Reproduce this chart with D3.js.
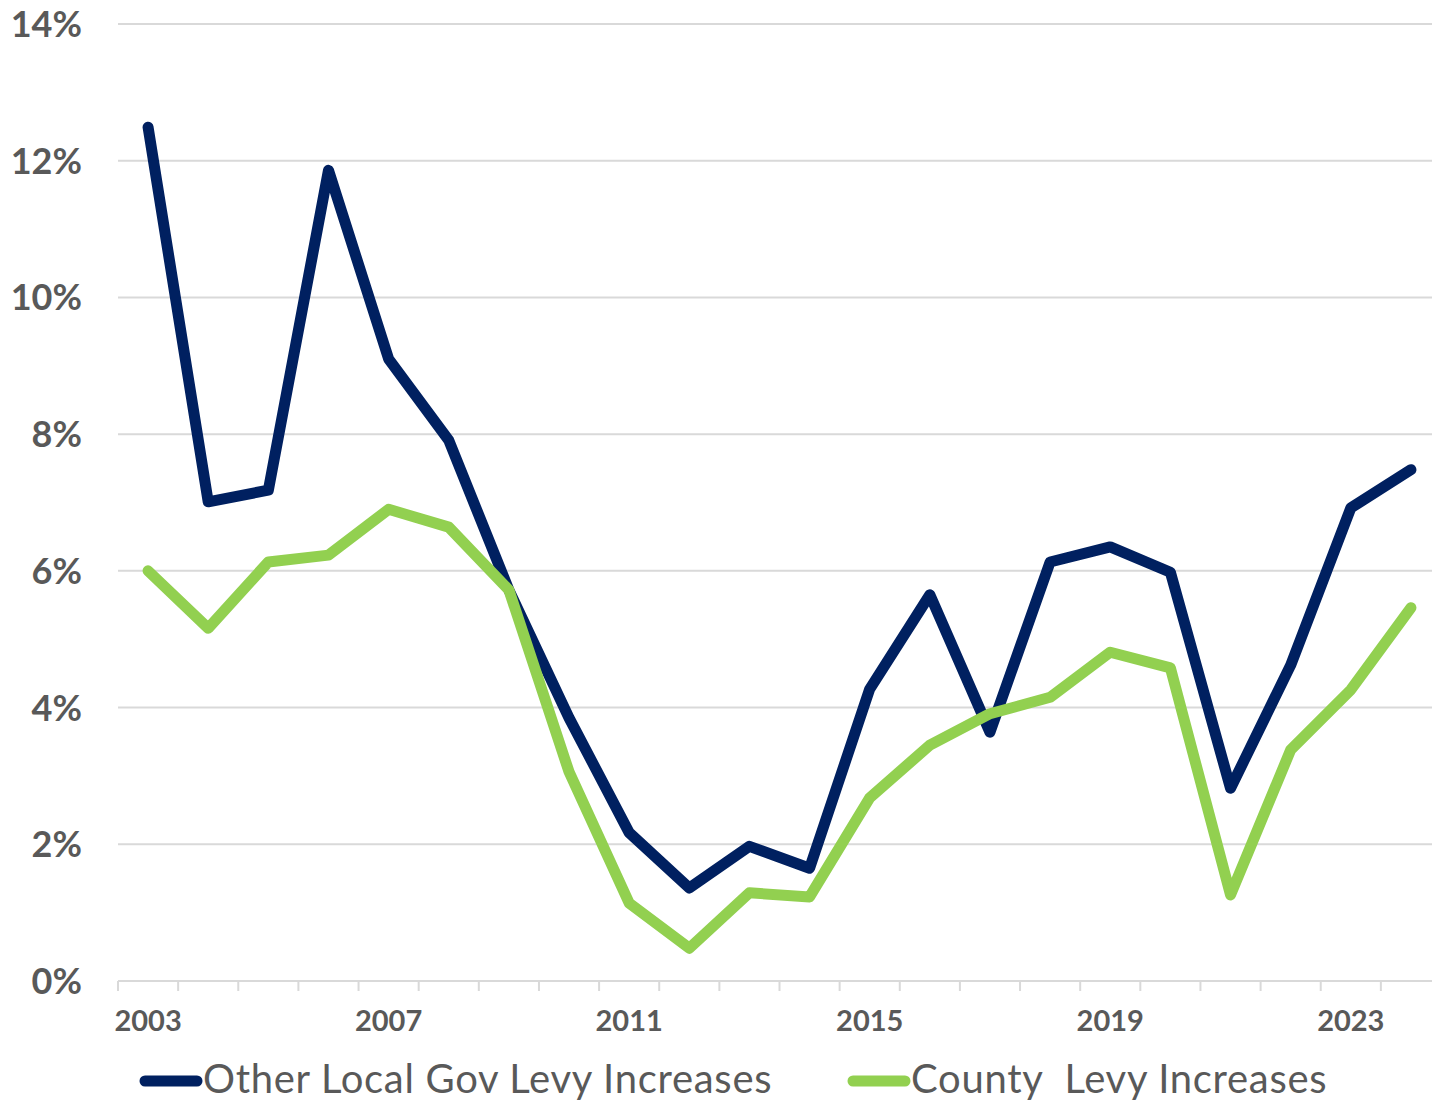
<!DOCTYPE html>
<html lang="en">
<head>
  <meta charset="UTF-8">
  <title>Levy Increases</title>
  <script src="https://d3js.org/d3.v7.min.js"></script>
  <style>
    body { margin: 0; background: #fff; }
    text { font-family: "Century Gothic", Lato, "Open Sans", sans-serif; fill: #595959; }
    .ylab { font-size: 36px; font-weight: bold; }
    .xlab { font-size: 29px; font-weight: bold; }
    .legend text { font-size: 40px; letter-spacing: 0.7px; }
  </style>
</head>
<body>
  <div id="chart"></div>

  <script>
    const years = d3.range(2003, 2025).map(String);
    const yearLabels = ["2003", "2007", "2011", "2015", "2019", "2023"];
    const yTicks = [0, 2, 4, 6, 8, 10, 12, 14];

    const otherLocal = [12.49, 7.01, 7.18, 11.86, 9.10, 7.91, 5.72, 3.85, 2.17, 1.36, 1.97,
                        1.65, 4.27, 5.65, 3.64, 6.13, 6.35, 5.98, 2.82, 4.62, 6.92, 7.48];
    const county = [6.00, 5.16, 6.13, 6.23, 6.90, 6.64, 5.72, 3.06, 1.14, 0.48, 1.29,
                    1.23, 2.68, 3.45, 3.91, 4.15, 4.81, 4.58, 1.26, 3.38, 4.26, 5.46];

    const series = [
      { name: "Other Local Gov Levy Increases", values: otherLocal, color: "#002060" },
      { name: "County\u00a0 Levy Increases", values: county, color: "#92D050" }
    ];

    const width = 1432, height = 1102;

    const svg = d3.select("#chart")
      .append("svg")
      .attr("width", width)
      .attr("height", height);

    const x = d3.scaleBand()
      .domain(years)
      .range([118, 1441])
      .padding(0);

    const y = d3.scaleLinear()
      .domain([0, 14])
      .range([981, 24]);

    // gridlines
    svg.append("g")
      .selectAll("line")
      .data(yTicks.filter(d => d > 0))
      .enter()
      .append("line")
      .attr("x1", 118)
      .attr("x2", width)
      .attr("y1", d => y(d))
      .attr("y2", d => y(d))
      .attr("stroke", "#d9d9d9")
      .attr("stroke-width", 2);

    // y labels
    svg.append("g")
      .selectAll("text")
      .data(yTicks)
      .enter()
      .append("text")
      .attr("class", "ylab")
      .attr("x", 82)
      .attr("y", d => y(d))
      .attr("dy", "0.36em")
      .attr("text-anchor", "end")
      .text(d => d + "%");

    // x axis line and ticks
    svg.append("line")
      .attr("x1", 118)
      .attr("x2", width)
      .attr("y1", y(0))
      .attr("y2", y(0))
      .attr("stroke", "#d9d9d9")
      .attr("stroke-width", 2);

    svg.append("g")
      .selectAll("line")
      .data(years)
      .enter()
      .append("line")
      .attr("x1", d => x(d))
      .attr("x2", d => x(d))
      .attr("y1", y(0))
      .attr("y2", y(0) + 10)
      .attr("stroke", "#d9d9d9")
      .attr("stroke-width", 2);

    svg.append("g")
      .selectAll("text")
      .data(yearLabels)
      .enter()
      .append("text")
      .attr("class", "xlab")
      .attr("x", d => x(d) + x.bandwidth() / 2)
      .attr("y", 1031)
      .attr("text-anchor", "middle")
      .text(d => d);

    // lines
    const line = d3.line()
      .x((d, i) => x(years[i]) + x.bandwidth() / 2)
      .y(d => y(d));

    svg.append("g")
      .selectAll("path")
      .data(series)
      .enter()
      .append("path")
      .attr("d", d => line(d.values))
      .attr("fill", "none")
      .attr("stroke", d => d.color)
      .attr("stroke-width", 11)
      .attr("stroke-linejoin", "round")
      .attr("stroke-linecap", "round");

    // legend
    const legend = svg.append("g").attr("class", "legend");
    const legendX = [145, 853];
    series.forEach((s, i) => {
      const g = legend.append("g").attr("transform", `translate(${legendX[i]},1081)`);
      g.append("line")
        .attr("x1", 0).attr("x2", 52)
        .attr("stroke", s.color)
        .attr("stroke-width", 11)
        .attr("stroke-linecap", "round");
      g.append("text")
        .attr("x", 58)
        .attr("dy", "0.3em")
        .text(s.name);
    });
  </script>
</body>
</html>
